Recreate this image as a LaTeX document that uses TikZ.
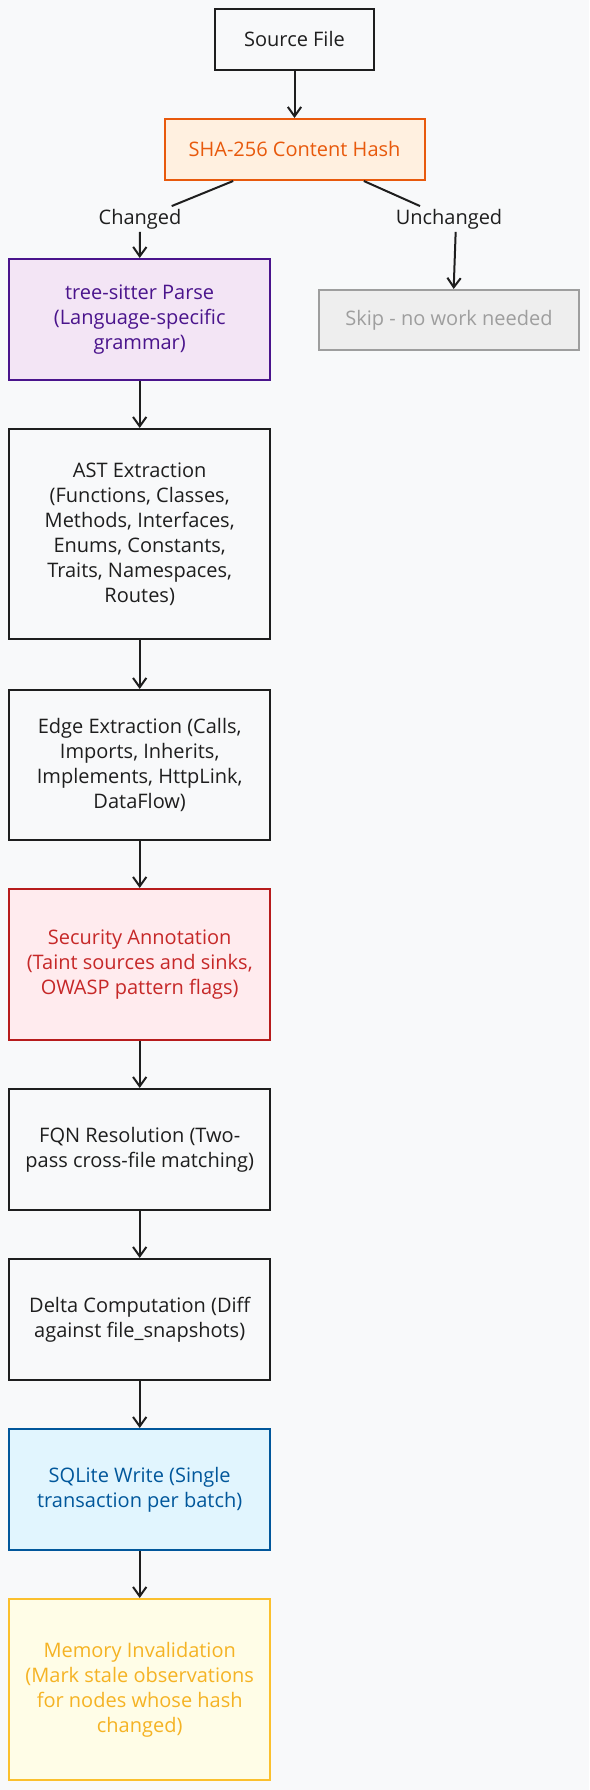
\documentclass[tikz,border=0pt]{standalone}
\usepackage{fontspec}
\setmainfont{Open Sans}
\usetikzlibrary{arrows.meta}
\definecolor{bgc}{HTML}{F8F9FA}
\definecolor{ink}{HTML}{1E1E1E}
\definecolor{orS}{HTML}{E8590C}
\definecolor{orF}{HTML}{FFF0E0}
\definecolor{puS}{HTML}{4A148C}
\definecolor{puF}{HTML}{F3E5F5}
\definecolor{grS}{HTML}{9E9E9E}
\definecolor{grF}{HTML}{EEEEEE}
\definecolor{rdS}{HTML}{B71C1C}
\definecolor{rdF}{HTML}{FFEBEE}
\definecolor{rdT}{HTML}{C62828}
\definecolor{blS}{HTML}{01579B}
\definecolor{blF}{HTML}{E1F5FE}
\definecolor{ylS}{HTML}{FBC02D}
\definecolor{ylF}{HTML}{FFFDE7}
\definecolor{ylT}{HTML}{F5B324}
\begin{document}
\begin{tikzpicture}[x=0.75pt,y=-0.75pt,
  box/.style={draw=ink, line width=1.5pt, fill=bgc, text=ink, inner sep=0pt,
    align=center, minimum width=195.45pt, font=\fontsize{15}{18.75}\selectfont},
  lbl/.style={fill=bgc, text=ink, inner sep=2pt, font=\fontsize{15}{18.75}\selectfont},
  conn/.style={draw=ink, line width=1.5pt},
  arr/.style={conn, -{Straight Barb[length=7pt,width=10pt,line width=1.5pt]}}
]
\fill[bgc] (0,0) rectangle (589,1790);
\useasboundingbox (0,0) rectangle (589,1790);

\node[box, minimum width=119.25pt, minimum height=45.75pt] (src) at (294.5,39.5) {Source File};
\node[box, draw=orS, fill=orF, text=orS, minimum width=195pt, minimum height=45.75pt] (sha) at (294.5,149.5) {SHA-256 Content Hash};
\node[box, draw=puS, fill=puF, text=puS, minimum height=90.75pt] (ts) at (139.7,319.5) {tree-sitter Parse\\(Language-specific\\grammar)};
\node[box, draw=grS, fill=grF, text=grS, minimum width=195pt, minimum height=45pt] (skip) at (449,320) {Skip - no work needed};
\node[box, minimum height=157.5pt] (ast) at (139.7,534) {AST Extraction\\(Functions, Classes,\\Methods, Interfaces,\\Enums, Constants,\\Traits, Namespaces,\\Routes)};
\node[box, minimum height=112.5pt] (edge) at (139.7,765) {Edge Extraction (Calls,\\Imports, Inherits,\\Implements, HttpLink,\\DataFlow)};
\node[box, draw=rdS, fill=rdF, text=rdT, minimum height=113.25pt] (sec) at (139.7,964.5) {Security Annotation\\(Taint sources and sinks,\\OWASP pattern flags)};
\node[box, minimum height=90.75pt] (fqn) at (139.7,1149.5) {FQN Resolution (Two-\\pass cross-file matching)};
\node[box, minimum height=90.75pt] (delta) at (139.7,1319.5) {Delta Computation (Diff\\against file\_snapshots)};
\node[box, draw=blS, fill=blF, text=blS, minimum height=90.75pt] (sql) at (139.7,1489.5) {SQLite Write (Single\\transaction per batch)};
\node[box, draw=ylS, fill=ylF, text=ylT, minimum height=135.75pt] (mem) at (139.7,1689.5) {Memory Invalidation\\(Mark stale observations\\for nodes whose hash\\changed)};

\node[lbl] (lchg) at (140,219) {Changed};
\node[lbl] (lunc) at (449,219) {Unchanged};

\draw[arr] (src) -- (sha);
\draw[conn] ([xshift=-46pt]sha.south) -- (lchg);
\draw[arr] (lchg.south) -- (ts.north);
\draw[conn] ([xshift=52pt]sha.south) -- (lunc);
\draw[arr] ([xshift=5pt]lunc.south) -- ([xshift=3.5pt]skip.north);
\draw[arr] (ts) -- (ast);
\draw[arr] (ast) -- (edge);
\draw[arr] (edge) -- (sec);
\draw[arr] (sec) -- (fqn);
\draw[arr] (fqn) -- (delta);
\draw[arr] (delta) -- (sql);
\draw[arr] (sql) -- (mem);
\end{tikzpicture}
\end{document}
